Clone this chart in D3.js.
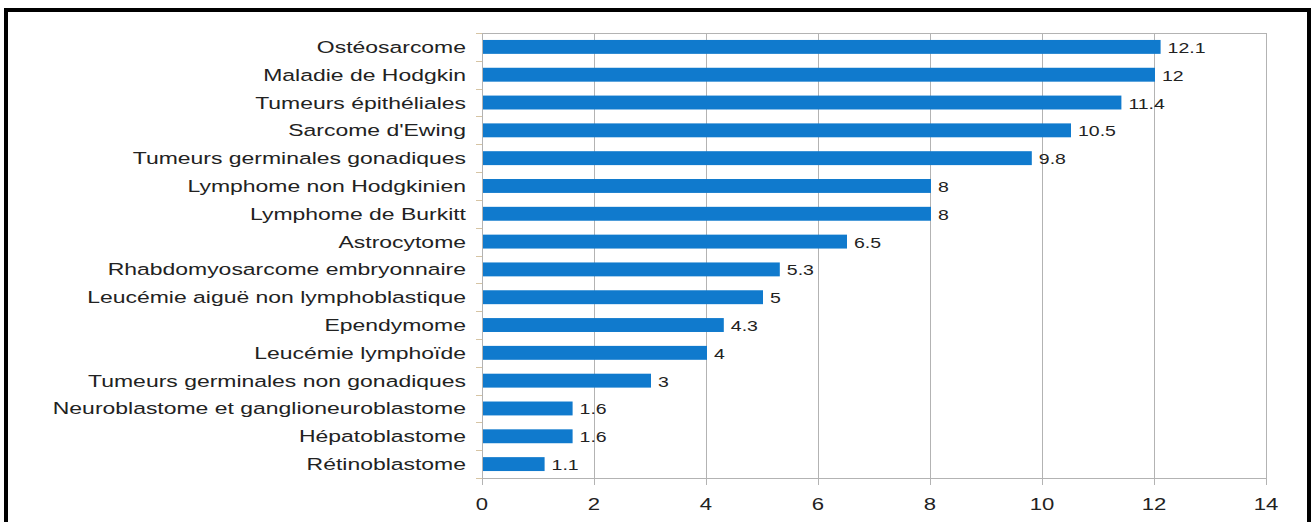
<!DOCTYPE html>
<html>
<head>
<meta charset="utf-8">
<script src="https://cdn.jsdelivr.net/npm/d3@7"></script>
<style>
  html, body { margin: 0; padding: 0; background: #fff; }
  svg { display: block; }
  text { font-family: "Liberation Sans", Arial, sans-serif; fill: #222; }
</style>
</head>
<body>
<svg id="chart" width="1311" height="522"></svg>
<script>
// Incidence by tumour type
const categories = [
  "Ostéosarcome",
  "Maladie de Hodgkin",
  "Tumeurs épithéliales",
  "Sarcome d'Ewing",
  "Tumeurs germinales gonadiques",
  "Lymphome non Hodgkinien",
  "Lymphome de Burkitt",
  "Astrocytome",
  "Rhabdomyosarcome embryonnaire",
  "Leucémie aiguë non lymphoblastique",
  "Ependymome",
  "Leucémie lymphoïde",
  "Tumeurs germinales non gonadiques",
  "Neuroblastome et ganglioneuroblastome",
  "Hépatoblastome",
  "Rétinoblastome"
];
const values = [12.1, 12, 11.4, 10.5, 9.8, 8, 8, 6.5, 5.3, 5, 4.3, 4, 3, 1.6, 1.6, 1.1];
const valueLabels = ["12.1", "12", "11.4", "10.5", "9.8", "8", "8", "6.5", "5.3", "5", "4.3", "4", "3", "1.6", "1.6", "1.1"];
const xTicks = [0, 2, 4, 6, 8, 10, 12, 14];
const xTickLabels = ["0", "2", "4", "6", "8", "10", "12", "14"];

const svg = d3.select("#chart");
const W = 1311, H = 522;
const plot = { left: 482, right: 1266, top: 33, bottom: 478 };
const stretch = 1.35; // horizontal widening of all lettering

// outer frame
svg.append("rect")
  .attr("x", 6).attr("y", 10)
  .attr("width", W - 8).attr("height", H + 20)
  .attr("fill", "none").attr("stroke", "#000").attr("stroke-width", 4);

const x = d3.scaleLinear().domain([0, 14]).range([plot.left, plot.right]);
const y = d3.scaleBand().domain(categories).range([plot.top, plot.bottom]).paddingInner(0.5).paddingOuter(0.25);
const yb = d3.scaleBand().domain(categories).range([plot.top, plot.bottom]);

// vertical gridlines, extending below the axis as tick marks
svg.append("g").selectAll("line").data(xTicks).join("line")
  .attr("x1", d => x(d) + 0.5).attr("x2", d => x(d) + 0.5)
  .attr("y1", plot.top).attr("y2", plot.bottom + 7)
  .attr("stroke", "#b3b3b3").attr("stroke-width", 1);

// top border and axes
svg.append("line")
  .attr("x1", plot.left).attr("x2", plot.right + 0.5)
  .attr("y1", plot.top + 0.5).attr("y2", plot.top + 0.5)
  .attr("stroke", "#b3b3b3");
svg.append("line")
  .attr("x1", plot.left - 6).attr("x2", plot.right + 0.5)
  .attr("y1", plot.bottom + 0.5).attr("y2", plot.bottom + 0.5)
  .attr("stroke", "#b3b3b3");

// category boundary ticks on the left axis
const bounds = categories.map(c => yb(c)).concat([plot.bottom]);
svg.append("g").selectAll("line").data(bounds).join("line")
  .attr("x1", plot.left - 6).attr("x2", plot.left)
  .attr("y1", d => Math.round(d) + 0.5).attr("y2", d => Math.round(d) + 0.5)
  .attr("stroke", "#d6c4a4");

// bars
svg.append("g").selectAll("rect").data(values).join("rect")
  .attr("x", x(0) + 1)
  .attr("y", (d, i) => y(categories[i]))
  .attr("width", d => x(d) - x(0))
  .attr("height", y.bandwidth())
  .attr("fill", "#107acd");

// category labels
svg.append("g").selectAll("text").data(categories).join("text")
  .attr("transform", d => `translate(466,${yb(d) + yb.bandwidth() / 2 + 6}) scale(${stretch},1)`)
  .attr("text-anchor", "end")
  .attr("font-size", 17)
  .text(d => d);

// value labels
svg.append("g").selectAll("text").data(values).join("text")
  .attr("transform", (d, i) => `translate(${x(d) + 8},${yb(categories[i]) + yb.bandwidth() / 2 + 6}) scale(1.3,1)`)
  .attr("font-size", 15)
  .text((d, i) => valueLabels[i]);

// x tick labels
svg.append("g").selectAll("text").data(xTicks).join("text")
  .attr("transform", d => `translate(${x(d)},510) scale(1.3,1)`)
  .attr("text-anchor", "middle")
  .attr("font-size", 17)
  .text((d, i) => xTickLabels[i]);
</script>
</body>
</html>
